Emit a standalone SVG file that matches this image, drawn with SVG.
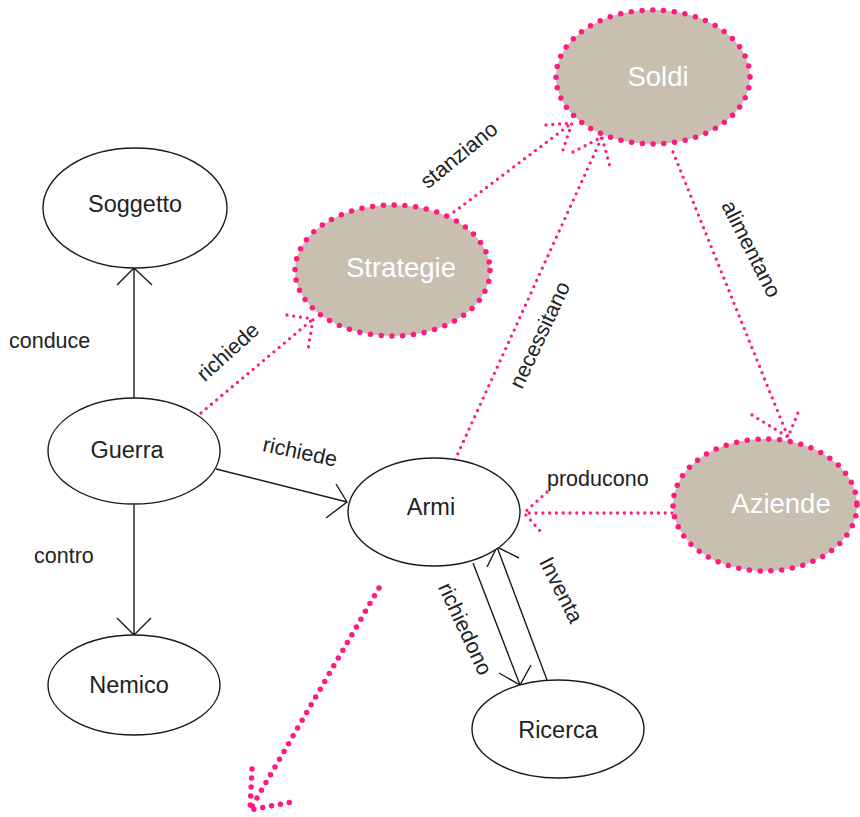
<svg xmlns="http://www.w3.org/2000/svg" width="860" height="817" viewBox="0 0 860 817">
<style>
.n{fill:#fff;stroke:#1a1a1a;stroke-width:1.4}
.f{fill:#C9BFB1;stroke:#FF1A7F;stroke-width:5.5;stroke-linecap:round;stroke-dasharray:0 10.8}
.t{font-family:"Liberation Sans",Arial,sans-serif;font-size:23.5px;fill:#222;text-anchor:middle}
.tw{font-family:"Liberation Sans",Arial,sans-serif;font-size:27.5px;fill:#fff;text-anchor:middle}
.l{font-family:"Liberation Sans",Arial,sans-serif;font-size:21.5px;fill:#222}
.k{fill:none;stroke:#1a1a1a;stroke-width:1.4}
.p{fill:none;stroke:#FF1A7F;stroke-width:3.3;stroke-linecap:round;stroke-dasharray:0 6.8}
.pb{fill:none;stroke:#FF1A7F;stroke-width:5.5;stroke-linecap:round;stroke-dasharray:0 9}
</style>
<rect width="860" height="817" fill="#fff"/>
<g id="connectors">
  <path class="k" d="M134 398V268M117 285L134 268L152 285"/>
  <path class="k" d="M134 505V635M117 618L134 635L151 618"/>
  <path class="k" d="M216 469L347 502M336 484L347 502L326 518"/>
  <path class="k" d="M473 563L520 685M499 673L520 685L531 665"/>
  <path class="k" d="M547 680L497 547M487 567L497 547L519 558"/>
  <path class="p" d="M201 413L313 319M287 315L313 319L308 350"/>
  <path class="p" d="M454 212L572 123M546 125L572 123L563 150"/>
  <path class="p" d="M455 460L602 137M573 152L602 137L610 167"/>
  <path class="p" d="M673 152L788 437M752 415L788 437L800 408"/>
  <path class="p" d="M672 513L524 513M547 492L524 513L542 533"/>
  <path class="pb" d="M379 588L250 810M252 769L250 810L297 801"/>
  <text class="l" x="9" y="348">conduce</text>
  <text class="l" x="34" y="563">contro</text>
  <text class="l" x="547" y="486">producono</text>
  <text class="l" text-anchor="middle" transform="translate(228 352) rotate(-42)" y="7">richiede</text>
  <text class="l" text-anchor="middle" transform="translate(300 452) rotate(12)" y="7">richiede</text>
  <text class="l" text-anchor="middle" transform="translate(459 155) rotate(-39)" y="7">stanziano</text>
  <text class="l" text-anchor="middle" transform="translate(540 335) rotate(-65)" y="7">necessitano</text>
  <text class="l" text-anchor="middle" transform="translate(751 249) rotate(63)" y="7">alimentano</text>
  <text class="l" text-anchor="middle" transform="translate(465 629) rotate(65)" y="7">richiedono</text>
  <text class="l" text-anchor="middle" transform="translate(561 590) rotate(63)" y="7">Inventa</text>
</g>
<g id="soggetto"><ellipse class="n" cx="135" cy="208" rx="92" ry="60"/><text class="t" x="135" y="212">Soggetto</text></g>
<g id="guerra"><ellipse class="n" cx="134" cy="451" rx="86" ry="53"/><text class="t" x="127" y="458">Guerra</text></g>
<g id="nemico"><ellipse class="n" cx="134" cy="685" rx="86" ry="50"/><text class="t" x="129" y="693">Nemico</text></g>
<g id="armi"><ellipse class="n" cx="434" cy="512" rx="86" ry="54"/><text class="t" x="431" y="515">Armi</text></g>
<g id="ricerca"><ellipse class="n" cx="558" cy="729" rx="86" ry="49"/><text class="t" x="558" y="738">Ricerca</text></g>
<g id="strategie"><ellipse class="f" cx="392.5" cy="270.5" rx="97.5" ry="65.5"/><text class="tw" x="401" y="277">Strategie</text></g>
<g id="soldi"><ellipse class="f" cx="653" cy="77" rx="97" ry="67"/><text class="tw" x="658" y="86">Soldi</text></g>
<g id="aziende"><ellipse class="f" cx="765" cy="505" rx="92" ry="66"/><text class="tw" x="781" y="513">Aziende</text></g>
</svg>
